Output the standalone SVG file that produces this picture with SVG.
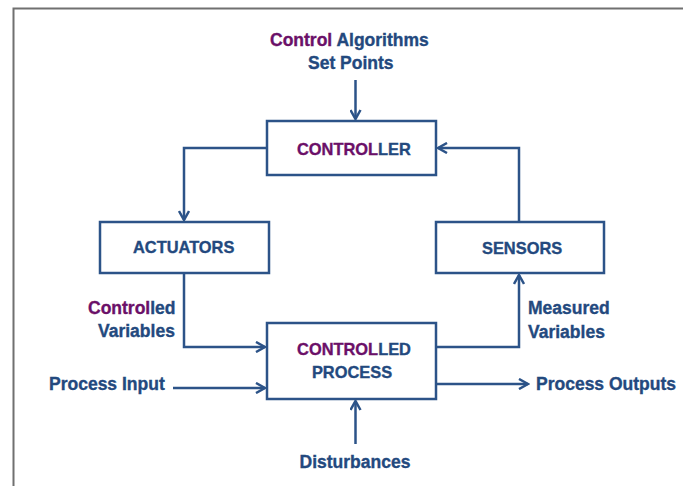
<svg xmlns="http://www.w3.org/2000/svg" width="683" height="486" viewBox="0 0 683 486">
<style>
.t{font-family:"Liberation Sans",Arial,sans-serif;font-weight:bold;fill:#23497E;stroke:#23497E;stroke-width:0.35;font-size:17.5px}
.u{font-size:16.4px}
.p{fill:#6B1068;stroke:#6B1068}
.box{fill:#fff;stroke:#2C5388;stroke-width:2.5}
.c{fill:none;stroke:#2C5388;stroke-width:2.5}
</style>
<defs>
<marker id="ah" markerUnits="userSpaceOnUse" viewBox="-1 -1 12 12" refX="9" refY="5" markerWidth="12" markerHeight="12" orient="auto">
<path d="M0,0 L9,5 L0,10" fill="none" stroke="#2C5388" stroke-width="2.5"/>
</marker>
</defs>
<rect width="683" height="486" fill="#fff"/>
<path d="M13.5,486 V8.5 H683" fill="none" stroke="#707070" stroke-width="2"/>

<g id="connectors">
<path class="c" d="M355.5,80 V119" marker-end="url(#ah)"/>
<path class="c" d="M267,148 H184 V220" marker-end="url(#ah)"/>
<path class="c" d="M184,273 V347 H265" marker-end="url(#ah)"/>
<path class="c" d="M436,347 H519 V275" marker-end="url(#ah)"/>
<path class="c" d="M519,222 V148 H438" marker-end="url(#ah)"/>
<path class="c" d="M436,384 H528" marker-end="url(#ah)"/>
<path class="c" d="M173,388 H265" marker-end="url(#ah)"/>
<path class="c" d="M355.5,444 V401" marker-end="url(#ah)"/>
</g>

<g id="setpoints">
<text class="t" x="270" y="46"><tspan class="p">Control</tspan> Algorithms</text>
<text class="t" x="308" y="69">Set Points</text>
</g>

<g id="controller">
<rect class="box" x="267" y="121" width="169" height="54"/>
<text class="t u" x="297" y="155"><tspan class="p">CONTROL</tspan>LER</text>
</g>

<g id="actuators">
<rect class="box" x="100" y="222" width="169" height="51"/>
<text class="t u" x="133" y="253">ACTUATORS</text>
</g>

<g id="sensors">
<rect class="box" x="436" y="222" width="168" height="51"/>
<text class="t u" x="482" y="254">SENSORS</text>
</g>

<g id="process">
<rect class="box" x="267" y="323" width="169" height="76"/>
<text class="t u" x="354" y="355" text-anchor="middle" font-size="16.8"><tspan class="p">CONTROL</tspan>LED</text>
<text class="t u" x="352" y="378" text-anchor="middle">PROCESS</text>
</g>

<g id="labels">
<text class="t" x="88" y="314"><tspan class="p">Control</tspan>led</text>
<text class="t" x="98" y="337">Variables</text>
<text class="t" x="528" y="314">Measured</text>
<text class="t" x="528" y="338">Variables</text>
<text class="t" x="49" y="390">Process Input</text>
<text class="t" x="536" y="390">Process Outputs</text>
<text class="t" x="355" y="468" text-anchor="middle">Disturbances</text>
</g>
</svg>
